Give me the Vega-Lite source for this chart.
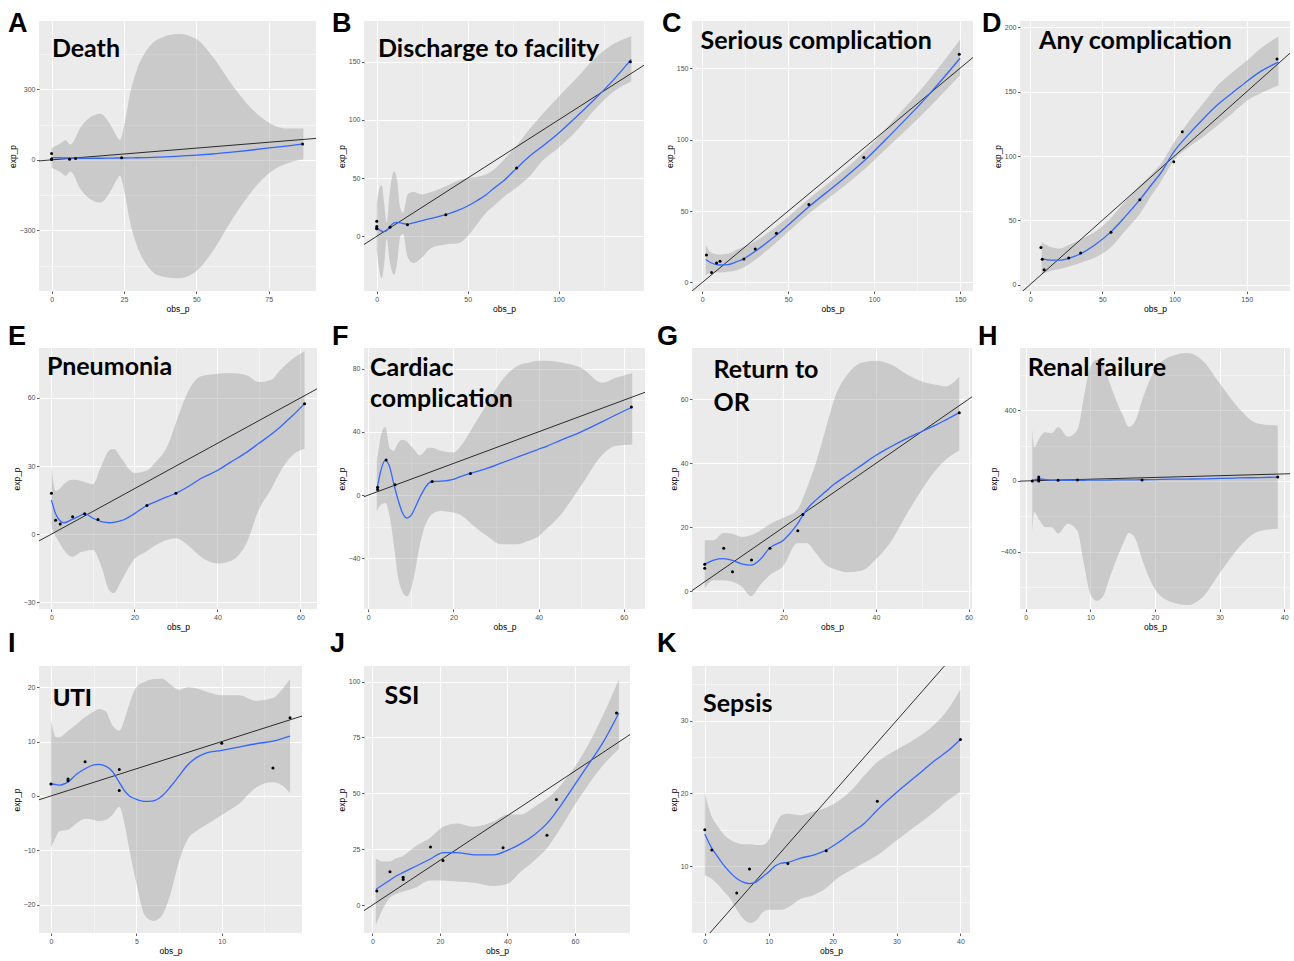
{
"$schema": "https://vega.github.io/schema/vega-lite/v6.json",
"background": "white",
"padding": {"left": 8, "top": 10, "right": 2, "bottom": 2},
"bounds": "flush",
"columns": 4,
"spacing": {"row": 57, "column": 47},
"config": {
  "view": {"fill": "#EBEBEB", "stroke": null},
  "axis": {"domain": false, "grid": true, "gridColor": "#FFFFFF", "tickColor": "#333333", "tickSize": 2.5, "tickWidth": 0.8, "labelColor": "#4D4D4D", "labelFont": "Liberation Sans", "labelFontSize": 7, "labelPadding": 1.5, "titleFont": "Liberation Sans", "titleFontSize": 8.5, "titleFontWeight": "normal", "titleColor": "#000000", "titlePadding": 2, "labelOverlap": false, "labelFlush": false}
},
"datasets": {
  "ident": [{"x": -2000, "y": -2000}, {"x": 2000, "y": 2000}],
  "A_band": [
    {"x":0,"fit":10,"lo":-33,"hi":51},{"x":3,"fit":9,"lo":-52,"hi":70},{"x":4.8,"fit":8,"lo":-68,"hi":84},{"x":6.5,"fit":8,"lo":-49,"hi":65},{"x":10,"fit":7,"lo":-124,"hi":138},{"x":13.3,"fit":7,"lo":-167,"hi":181},{"x":16.8,"fit":7,"lo":-182,"hi":196},{"x":20.2,"fit":7.5,"lo":-137,"hi":152},{"x":22.5,"fit":8,"lo":-85,"hi":101},{"x":23.6,"fit":8,"lo":-68,"hi":84},{"x":25.3,"fit":8,"lo":-144,"hi":160},{"x":27,"fit":8.5,"lo":-258,"hi":275},{"x":29.3,"fit":9,"lo":-359,"hi":377},{"x":32.7,"fit":10,"lo":-444,"hi":464},{"x":37.3,"fit":12,"lo":-493,"hi":517},{"x":44,"fit":16,"lo":-504,"hi":536},{"x":50,"fit":20,"lo":-474,"hi":514},{"x":55.5,"fit":25,"lo":-392,"hi":442},{"x":62.4,"fit":33,"lo":-253,"hi":319},{"x":69.2,"fit":42,"lo":-133,"hi":217},{"x":76,"fit":52,"lo":-48,"hi":152},{"x":81.8,"fit":60,"lo":-13,"hi":133},{"x":87,"fit":68,"lo":3,"hi":133}
  ],
  "A_pts": [{"x":0,"y":27},{"x":0,"y":4},{"x":0,"y":2},{"x":6.2,"y":3},{"x":8.3,"y":6},{"x":24.2,"y":9},{"x":86.7,"y":68}],
  "B_band": [
    {"x":0,"fit":8,"lo":-12,"hi":28},{"x":1,"fit":6,"lo":-25,"hi":38},{"x":2.7,"fit":4.5,"lo":-36,"hi":44},{"x":4,"fit":4,"lo":-25,"hi":30},{"x":5.5,"fit":5,"lo":-2,"hi":12},{"x":7,"fit":8,"lo":-20,"hi":35},{"x":9.5,"fit":11.5,"lo":-33,"hi":56},{"x":11,"fit":12,"lo":-25,"hi":50},{"x":13,"fit":11.5,"lo":0,"hi":24},{"x":14.5,"fit":11,"lo":2,"hi":20},{"x":17,"fit":10.5,"lo":-18,"hi":36},{"x":20,"fit":11.5,"lo":-23,"hi":38},{"x":25,"fit":13.5,"lo":-18,"hi":36},{"x":30,"fit":15.5,"lo":-10,"hi":38},{"x":38,"fit":18.6,"lo":-7,"hi":43},{"x":45,"fit":22.5,"lo":-6,"hi":48},{"x":50,"fit":26,"lo":0,"hi":50},{"x":55,"fit":30.5,"lo":10,"hi":51},{"x":60,"fit":35.5,"lo":20,"hi":53},{"x":65,"fit":42,"lo":27,"hi":58},{"x":70,"fit":48,"lo":34,"hi":66},{"x":77,"fit":58.6,"lo":42,"hi":78},{"x":85,"fit":70,"lo":53,"hi":94},{"x":90,"fit":76,"lo":63,"hi":103},{"x":100,"fit":88.6,"lo":76,"hi":120},{"x":110,"fit":103,"lo":91,"hi":136},{"x":120,"fit":118,"lo":109,"hi":153},{"x":130,"fit":134,"lo":124,"hi":165},{"x":140,"fit":152,"lo":133,"hi":172}
  ],
  "B_pts": [{"x":0,"y":13},{"x":0,"y":8.5},{"x":0,"y":7},{"x":0,"y":6.5},{"x":7.3,"y":7.7},{"x":16.9,"y":10},{"x":38,"y":18.6},{"x":76.9,"y":58.6},{"x":139.5,"y":150}],
  "C_band": [
    {"x":2,"fit":16,"lo":5,"hi":26},{"x":5,"fit":13.8,"lo":7,"hi":21},{"x":10,"fit":12.2,"lo":7,"hi":19.5},{"x":15,"fit":12.5,"lo":7.5,"hi":20},{"x":20,"fit":14.5,"lo":8.5,"hi":23},{"x":24,"fit":16.5,"lo":10.5,"hi":25},{"x":31,"fit":22,"lo":16,"hi":29},{"x":43,"fit":33,"lo":28,"hi":39},{"x":62,"fit":53,"lo":48,"hi":58.5},{"x":80,"fit":70.5,"lo":65,"hi":76},{"x":95,"fit":86,"lo":80,"hi":92.5},{"x":110,"fit":104,"lo":97,"hi":112},{"x":130,"fit":129,"lo":120,"hi":139},{"x":150,"fit":157,"lo":145,"hi":170}
  ],
  "C_pts": [{"x":2.4,"y":19.2},{"x":5.4,"y":7},{"x":8.3,"y":13.6},{"x":10.3,"y":14.8},{"x":24.2,"y":16.4},{"x":30.8,"y":23.4},{"x":43.1,"y":34.4},{"x":62,"y":54.6},{"x":94,"y":87.4},{"x":149.5,"y":159.8}],
  "D_band": [
    {"x":8,"fit":20,"lo":8,"hi":33},{"x":15,"fit":19,"lo":11,"hi":29},{"x":20,"fit":19,"lo":12,"hi":28},{"x":27,"fit":20.5,"lo":14,"hi":31},{"x":35,"fit":24,"lo":17,"hi":35},{"x":45,"fit":31,"lo":21,"hi":41},{"x":56,"fit":41,"lo":29,"hi":52},{"x":66,"fit":53,"lo":42,"hi":65},{"x":76,"fit":66,"lo":55,"hi":77},{"x":85,"fit":79,"lo":71,"hi":87},{"x":90,"fit":86,"lo":79,"hi":93},{"x":100,"fit":104,"lo":97,"hi":111},{"x":110,"fit":117,"lo":107,"hi":127},{"x":120,"fit":129,"lo":115,"hi":141},{"x":130,"fit":140,"lo":124,"hi":155},{"x":140,"fit":149,"lo":133,"hi":165},{"x":150,"fit":158,"lo":143,"hi":174},{"x":160,"fit":166,"lo":149,"hi":184},{"x":172,"fit":173,"lo":155,"hi":193}
  ],
  "D_pts": [{"x":7.5,"y":28.8},{"x":8.4,"y":19.6},{"x":9.7,"y":11.5},{"x":26.7,"y":20.7},{"x":35,"y":24.6},{"x":56,"y":40.6},{"x":76,"y":66},{"x":99.5,"y":95.5},{"x":105.4,"y":118.8},{"x":171,"y":175.4}],
  "E_band": [
    {"x":0,"fit":15,"lo":3,"hi":30},{"x":1,"fit":9,"lo":-1,"hi":19},{"x":2,"fit":6,"lo":-4,"hi":20},{"x":3,"fit":5,"lo":-7,"hi":22},{"x":5,"fit":6.5,"lo":-10,"hi":24},{"x":7,"fit":8.2,"lo":-8,"hi":23.5},{"x":8,"fit":9,"lo":-7.5,"hi":23},{"x":10,"fit":7,"lo":-7,"hi":22},{"x":12,"fit":5.5,"lo":-14,"hi":30},{"x":14,"fit":5,"lo":-25,"hi":37},{"x":15,"fit":5.2,"lo":-26,"hi":37.5},{"x":17,"fit":6,"lo":-20,"hi":33},{"x":20,"fit":9,"lo":-11,"hi":27},{"x":23,"fit":12.6,"lo":-7.5,"hi":28},{"x":25,"fit":14.2,"lo":-5,"hi":31.5},{"x":28,"fit":16.5,"lo":-2.5,"hi":39},{"x":30,"fit":18,"lo":-1.8,"hi":49},{"x":33,"fit":21,"lo":-5,"hi":63},{"x":36,"fit":24.5,"lo":-10,"hi":69.5},{"x":40,"fit":28,"lo":-13,"hi":70.7},{"x":43,"fit":31.5,"lo":-12,"hi":71},{"x":47,"fit":36,"lo":-4,"hi":70},{"x":50,"fit":40,"lo":10.8,"hi":67},{"x":53,"fit":44,"lo":20,"hi":68},{"x":55,"fit":47,"lo":27,"hi":72},{"x":58,"fit":52,"lo":34.6,"hi":77},{"x":61,"fit":57.5,"lo":37.6,"hi":80.7}
  ],
  "E_pts": [{"x":0,"y":18},{"x":1,"y":6.1},{"x":2.1,"y":4.5},{"x":5.1,"y":7.6},{"x":8,"y":9},{"x":11.2,"y":6.4},{"x":23,"y":12.6},{"x":30,"y":18},{"x":61,"y":57.4}],
  "F_band": [
    {"x":2,"fit":3,"lo":-10,"hi":21},{"x":2.5,"fit":10,"lo":-8,"hi":30},{"x":3,"fit":16,"lo":-6,"hi":38},{"x":4,"fit":22,"lo":-5,"hi":43},{"x":5,"fit":18,"lo":-13,"hi":30},{"x":6,"fit":7,"lo":-31,"hi":28},{"x":7,"fit":-3,"lo":-52,"hi":33},{"x":8,"fit":-11,"lo":-61,"hi":35},{"x":9,"fit":-14.5,"lo":-64,"hi":34},{"x":10,"fit":-13,"lo":-60,"hi":31},{"x":11,"fit":-8,"lo":-48,"hi":28},{"x":12,"fit":-2,"lo":-33,"hi":25},{"x":13,"fit":3,"lo":-22,"hi":27},{"x":14,"fit":7,"lo":-15.5,"hi":30},{"x":15,"fit":8.6,"lo":-12,"hi":30},{"x":17,"fit":8.8,"lo":-10,"hi":28},{"x":20,"fit":10,"lo":-11,"hi":27},{"x":22,"fit":12,"lo":-13,"hi":32},{"x":25,"fit":14.5,"lo":-20,"hi":45},{"x":28,"fit":17,"lo":-26,"hi":58},{"x":31,"fit":20,"lo":-31,"hi":71},{"x":35,"fit":24,"lo":-31,"hi":81.6},{"x":38,"fit":27,"lo":-28.5,"hi":84},{"x":40,"fit":29,"lo":-26,"hi":85},{"x":42,"fit":31,"lo":-21,"hi":85},{"x":45,"fit":34.5,"lo":-13,"hi":84},{"x":50,"fit":40,"lo":6,"hi":80.5},{"x":55,"fit":46.5,"lo":25.5,"hi":71},{"x":58,"fit":50.5,"lo":31,"hi":74},{"x":62,"fit":55.7,"lo":32,"hi":77}
  ],
  "F_pts": [{"x":2.2,"y":5},{"x":2.2,"y":3.5},{"x":4.2,"y":22.2},{"x":6.3,"y":6.5},{"x":15,"y":8.6},{"x":24,"y":13.6},{"x":61.8,"y":55.7}],
  "G_band": [
    {"x":3,"fit":8.5,"lo":1,"hi":16},{"x":5,"fit":9.8,"lo":3.5,"hi":16},{"x":7,"fit":10.2,"lo":3.5,"hi":18.2},{"x":9,"fit":9.7,"lo":3,"hi":18},{"x":11,"fit":8.6,"lo":1.5,"hi":17},{"x":13,"fit":8.2,"lo":-1.5,"hi":17.5},{"x":15,"fit":10,"lo":2,"hi":19},{"x":17,"fit":13.5,"lo":5,"hi":21},{"x":20,"fit":16,"lo":8,"hi":23},{"x":23,"fit":21,"lo":15,"hi":25.5},{"x":25,"fit":25.5,"lo":15,"hi":32},{"x":27,"fit":28.5,"lo":12,"hi":40},{"x":29,"fit":31,"lo":8.5,"hi":50},{"x":31,"fit":33.5,"lo":7,"hi":60},{"x":34,"fit":36.5,"lo":6,"hi":68},{"x":37,"fit":39.5,"lo":6.5,"hi":71.5},{"x":40,"fit":42.5,"lo":10,"hi":72},{"x":43,"fit":45,"lo":15,"hi":71},{"x":47,"fit":48,"lo":25,"hi":67.5},{"x":50,"fit":50,"lo":32,"hi":65.5},{"x":53,"fit":52,"lo":38,"hi":64.5},{"x":55,"fit":53.5,"lo":41,"hi":64},{"x":58,"fit":55.8,"lo":44,"hi":67}
  ],
  "G_pts": [{"x":3,"y":8.5},{"x":3,"y":7.2},{"x":7.1,"y":13.5},{"x":9,"y":6.1},{"x":13.1,"y":9.8},{"x":17.1,"y":13.5},{"x":23.1,"y":18.9},{"x":24.2,"y":24},{"x":58,"y":55.8}],
  "H_band": [
    {"x":1,"fit":5,"lo":-290,"hi":295},{"x":1.3,"fit":6,"lo":-175,"hi":190},{"x":2,"fit":12,"lo":-215,"hi":235},{"x":3,"fit":8,"lo":-260,"hi":275},{"x":4,"fit":5,"lo":-262,"hi":270},{"x":5,"fit":4,"lo":-297,"hi":305},{"x":6.5,"fit":4,"lo":-242,"hi":250},{"x":8,"fit":4,"lo":-282,"hi":290},{"x":9,"fit":4,"lo":-468,"hi":476},{"x":10,"fit":4.5,"lo":-640,"hi":648},{"x":11,"fit":5,"lo":-678,"hi":686},{"x":12,"fit":5,"lo":-649,"hi":657},{"x":13,"fit":5.5,"lo":-544,"hi":552},{"x":15,"fit":6,"lo":-360,"hi":371},{"x":16,"fit":6.5,"lo":-293,"hi":305},{"x":17,"fit":6.5,"lo":-330,"hi":343},{"x":18,"fit":7,"lo":-443,"hi":457},{"x":20,"fit":8,"lo":-613,"hi":629},{"x":22.5,"fit":10,"lo":-685,"hi":705},{"x":25,"fit":11,"lo":-702,"hi":724},{"x":27.5,"fit":12,"lo":-652,"hi":676},{"x":30,"fit":15,"lo":-522,"hi":552},{"x":33,"fit":17,"lo":-376,"hi":410},{"x":36,"fit":19,"lo":-286,"hi":324},{"x":39,"fit":22,"lo":-270,"hi":314}
  ],
  "H_pts": [{"x":1,"y":0},{"x":2,"y":23},{"x":2,"y":10},{"x":2,"y":0},{"x":5,"y":4},{"x":8,"y":6},{"x":18,"y":6},{"x":39,"y":23}],
  "I_band": [
    {"x":0,"fit":2.2,"lo":-9.5,"hi":14},{"x":0.3,"fit":2.1,"lo":-7.5,"hi":10.8},{"x":0.5,"fit":2,"lo":-6.5,"hi":10.8},{"x":1,"fit":2.6,"lo":-6.2,"hi":12},{"x":1.5,"fit":4,"lo":-5,"hi":13.2},{"x":2,"fit":5,"lo":-4.2,"hi":14.5},{"x":2.5,"fit":5.7,"lo":-4.4,"hi":15.5},{"x":2.8,"fit":5.8,"lo":-4.6,"hi":16},{"x":3.2,"fit":5.5,"lo":-4.4,"hi":15.6},{"x":3.6,"fit":4.5,"lo":-3.5,"hi":13},{"x":4,"fit":2.5,"lo":-2,"hi":12},{"x":4.3,"fit":1,"lo":-5,"hi":14},{"x":4.6,"fit":0,"lo":-10,"hi":17},{"x":5,"fit":-0.6,"lo":-16,"hi":20},{"x":5.5,"fit":-1,"lo":-22,"hi":21},{"x":6,"fit":-0.9,"lo":-23,"hi":21.5},{"x":6.5,"fit":0,"lo":-22,"hi":21.6},{"x":7,"fit":1.7,"lo":-18,"hi":20.5},{"x":7.5,"fit":3.7,"lo":-12,"hi":19.5},{"x":8,"fit":5.7,"lo":-8,"hi":20},{"x":8.5,"fit":7,"lo":-6.5,"hi":19.8},{"x":9,"fit":7.8,"lo":-5.5,"hi":19.3},{"x":10,"fit":8.4,"lo":-3.5,"hi":18.5},{"x":11,"fit":9,"lo":-1.5,"hi":18.5},{"x":12,"fit":9.6,"lo":1.5,"hi":17.5},{"x":13,"fit":10.1,"lo":2.5,"hi":18},{"x":13.5,"fit":10.5,"lo":2,"hi":19.5},{"x":14,"fit":11,"lo":0.5,"hi":21.5}
  ],
  "I_pts": [{"x":0,"y":2.2},{"x":1,"y":2.8},{"x":1,"y":3.1},{"x":2,"y":6.3},{"x":4,"y":4.85},{"x":4,"y":1},{"x":10,"y":9.7},{"x":13,"y":5.15},{"x":14,"y":14.4}],
  "J_band": [
    {"x":1,"fit":7,"lo":-9,"hi":21},{"x":3,"fit":9,"lo":-2,"hi":19.5},{"x":5,"fit":11,"lo":3,"hi":19.5},{"x":7,"fit":13,"lo":5,"hi":21},{"x":9,"fit":14.5,"lo":6,"hi":22},{"x":13,"fit":17.5,"lo":8,"hi":26.5},{"x":17,"fit":20.5,"lo":11,"hi":30},{"x":21,"fit":23.5,"lo":11,"hi":35},{"x":25,"fit":23.5,"lo":10.5,"hi":36.5},{"x":30,"fit":22.5,"lo":10,"hi":35},{"x":36,"fit":22.5,"lo":8.5,"hi":37.5},{"x":40,"fit":24.5,"lo":9.5,"hi":40.5},{"x":44,"fit":27.5,"lo":15,"hi":40.5},{"x":48,"fit":31.5,"lo":20,"hi":44},{"x":52,"fit":37,"lo":26,"hi":48},{"x":56,"fit":45,"lo":35,"hi":54},{"x":60,"fit":54,"lo":45,"hi":62},{"x":64,"fit":63,"lo":54,"hi":72},{"x":68,"fit":72,"lo":62,"hi":84},{"x":73,"fit":86,"lo":70,"hi":101}
  ],
  "J_pts": [{"x":1.3,"y":6.3},{"x":5.2,"y":14.9},{"x":9.1,"y":11.5},{"x":9.1,"y":12.5},{"x":17.2,"y":26},{"x":20.9,"y":20},{"x":38.7,"y":25.7},{"x":51.7,"y":31.2},{"x":54.5,"y":47.3},{"x":72.3,"y":86}],
  "K_band": [
    {"x":0,"fit":14.4,"lo":8.7,"hi":20},{"x":1,"fit":12.6,"lo":8.3,"hi":17},{"x":2,"fit":11.3,"lo":7.5,"hi":15.5},{"x":3,"fit":10.1,"lo":6.5,"hi":14.3},{"x":4,"fit":9.1,"lo":5.5,"hi":13.6},{"x":5,"fit":8.3,"lo":4,"hi":13.2},{"x":6,"fit":7.8,"lo":2.8,"hi":13},{"x":7,"fit":7.6,"lo":2.2,"hi":13},{"x":8,"fit":7.8,"lo":2.5,"hi":12.9},{"x":9,"fit":8.5,"lo":3.6,"hi":12.9},{"x":10,"fit":9.2,"lo":4,"hi":13.6},{"x":11,"fit":10,"lo":4,"hi":15.5},{"x":12,"fit":10.4,"lo":4,"hi":17},{"x":13,"fit":10.5,"lo":4.3,"hi":17.2},{"x":15,"fit":11.1,"lo":5.5,"hi":17},{"x":17,"fit":11.5,"lo":6,"hi":17.5},{"x":19,"fit":12.2,"lo":7,"hi":18},{"x":21,"fit":13.3,"lo":8.5,"hi":19},{"x":23,"fit":14.6,"lo":9.5,"hi":20.5},{"x":25,"fit":15.9,"lo":10.5,"hi":22.5},{"x":27,"fit":17.7,"lo":11.5,"hi":24.3},{"x":30,"fit":20.1,"lo":13.5,"hi":26},{"x":33,"fit":22.3,"lo":15.5,"hi":27.5},{"x":36,"fit":24.5,"lo":17.5,"hi":29.5},{"x":38,"fit":25.8,"lo":19,"hi":31.5},{"x":40,"fit":27.4,"lo":20.2,"hi":34.3}
  ],
  "K_pts": [{"x":0,"y":15},{"x":1.1,"y":12.2},{"x":5,"y":6.3},{"x":7,"y":9.6},{"x":13,"y":10.35},{"x":19,"y":12.1},{"x":27,"y":18.9},{"x":40,"y":27.4}]
},
"concat": [
  {"width": 277, "height": 270,
   "title": {"text": "A", "anchor": "start", "frame": "group", "offset": 0, "baseline": "alphabetic", "dx": -31, "dy": 38, "font": "Liberation Sans", "fontSize": 27, "fontWeight": "bold", "color": "#000000"},
   "layer": [
    {"data": {"name": "A_band"}, "mark": {"type": "area", "color": "#999999", "opacity": 0.4, "interpolate": "monotone"}, "encoding": {
      "x": {"field": "x", "type": "quantitative", "title": "obs_p", "scale": {"domain": [-4.35, 91.35], "nice": false, "zero": false}, "axis": {"labelOverlap": false, "values": [0,12.5,25,37.5,50,62.5,75,87.5], "labelExpr": "datum.value % 25 ? '' : datum.label", "tickOpacity": {"condition": {"test": "datum.value % 25", "value": 0}, "value": 1}, "gridWidth": {"condition": {"test": "datum.value % 25", "value": 0.5}, "value": 1}}},
      "y": {"field": "lo", "type": "quantitative", "title": "exp_p", "scale": {"domain": [-558, 591], "nice": false, "zero": false}, "axis": {"labelOverlap": false, "values": [-450,-300,-150,0,150,300,450], "labelExpr": "datum.value % 300 ? '' : datum.label", "tickOpacity": {"condition": {"test": "datum.value % 300", "value": 0}, "value": 1}, "gridWidth": {"condition": {"test": "datum.value % 300", "value": 0.5}, "value": 1}}}, "y2": {"field": "hi"}}},
    {"data": {"name": "ident"}, "mark": {"type": "line", "color": "#000000", "strokeWidth": 0.8, "clip": true}, "encoding": {"x": {"field": "x", "type": "quantitative", "title": "obs_p"}, "y": {"field": "y", "type": "quantitative", "title": "exp_p"}}},
    {"data": {"name": "A_band"}, "mark": {"type": "line", "color": "#3366FF", "strokeWidth": 1.3, "interpolate": "monotone"}, "encoding": {"x": {"field": "x", "type": "quantitative", "title": "obs_p"}, "y": {"field": "fit", "type": "quantitative", "title": "exp_p"}}},
    {"data": {"name": "A_pts"}, "mark": {"type": "circle", "color": "#000000", "size": 9, "opacity": 1}, "encoding": {"x": {"field": "x", "type": "quantitative", "title": "obs_p"}, "y": {"field": "y", "type": "quantitative", "title": "exp_p"}}},
    {"data": {"values": [{"label": "Death"}]}, "mark": {"type": "text", "font": "Lato", "fontWeight": "bold", "fontSize": 25, "align": "left", "baseline": "alphabetic", "color": "#000000"}, "encoding": {"x": {"datum": 0.1, "type": "quantitative"}, "y": {"datum": 437, "type": "quantitative"}, "text": {"field": "label"}}}
   ]},
  {"width": 280, "height": 270,
   "title": {"text": "B", "anchor": "start", "frame": "group", "offset": 0, "baseline": "alphabetic", "dx": -32, "dy": 38, "font": "Liberation Sans", "fontSize": 27, "fontWeight": "bold", "color": "#000000"},
   "layer": [
    {"data": {"name": "B_band"}, "mark": {"type": "area", "color": "#999999", "opacity": 0.4, "interpolate": "monotone"}, "encoding": {
      "x": {"field": "x", "type": "quantitative", "title": "obs_p", "scale": {"domain": [-7, 147], "nice": false, "zero": false}, "axis": {"labelOverlap": false, "values": [0,25,50,75,100,125], "labelExpr": "datum.value % 50 ? '' : datum.label", "tickOpacity": {"condition": {"test": "datum.value % 50", "value": 0}, "value": 1}, "gridWidth": {"condition": {"test": "datum.value % 50", "value": 0.5}, "value": 1}}},
      "y": {"field": "lo", "type": "quantitative", "title": "exp_p", "scale": {"domain": [-47, 185], "nice": false, "zero": false}, "axis": {"labelOverlap": false, "values": [0,25,50,75,100,125,150,175], "labelExpr": "datum.value % 50 ? '' : datum.label", "tickOpacity": {"condition": {"test": "datum.value % 50", "value": 0}, "value": 1}, "gridWidth": {"condition": {"test": "datum.value % 50", "value": 0.5}, "value": 1}}}, "y2": {"field": "hi"}}},
    {"data": {"name": "ident"}, "mark": {"type": "line", "color": "#000000", "strokeWidth": 0.8, "clip": true}, "encoding": {"x": {"field": "x", "type": "quantitative", "title": "obs_p"}, "y": {"field": "y", "type": "quantitative", "title": "exp_p"}}},
    {"data": {"name": "B_band"}, "mark": {"type": "line", "color": "#3366FF", "strokeWidth": 1.3, "interpolate": "monotone"}, "encoding": {"x": {"field": "x", "type": "quantitative", "title": "obs_p"}, "y": {"field": "fit", "type": "quantitative", "title": "exp_p"}}},
    {"data": {"name": "B_pts"}, "mark": {"type": "circle", "color": "#000000", "size": 9, "opacity": 1}, "encoding": {"x": {"field": "x", "type": "quantitative", "title": "obs_p"}, "y": {"field": "y", "type": "quantitative", "title": "exp_p"}}},
    {"data": {"values": [{"label": "Discharge to facility"}]}, "mark": {"type": "text", "font": "Lato", "fontWeight": "bold", "fontSize": 25, "align": "left", "baseline": "alphabetic", "color": "#000000"}, "encoding": {"x": {"datum": 0.7, "type": "quantitative"}, "y": {"datum": 154, "type": "quantitative"}, "text": {"field": "label"}}}
   ]},
  {"width": 281, "height": 270,
   "title": {"text": "C", "anchor": "start", "frame": "group", "offset": 0, "baseline": "alphabetic", "dx": -30, "dy": 38, "font": "Liberation Sans", "fontSize": 27, "fontWeight": "bold", "color": "#000000"},
   "layer": [
    {"data": {"name": "C_band"}, "mark": {"type": "area", "color": "#999999", "opacity": 0.4, "interpolate": "monotone"}, "encoding": {
      "x": {"field": "x", "type": "quantitative", "title": "obs_p", "scale": {"domain": [-6, 157.5], "nice": false, "zero": false}, "axis": {"labelOverlap": false, "values": [0,25,50,75,100,125,150], "labelExpr": "datum.value % 50 ? '' : datum.label", "tickOpacity": {"condition": {"test": "datum.value % 50", "value": 0}, "value": 1}, "gridWidth": {"condition": {"test": "datum.value % 50", "value": 0.5}, "value": 1}}},
      "y": {"field": "lo", "type": "quantitative", "title": "exp_p", "scale": {"domain": [-6, 183], "nice": false, "zero": false}, "axis": {"labelOverlap": false, "values": [0,25,50,75,100,125,150,175], "labelExpr": "datum.value % 50 ? '' : datum.label", "tickOpacity": {"condition": {"test": "datum.value % 50", "value": 0}, "value": 1}, "gridWidth": {"condition": {"test": "datum.value % 50", "value": 0.5}, "value": 1}}}, "y2": {"field": "hi"}}},
    {"data": {"name": "ident"}, "mark": {"type": "line", "color": "#000000", "strokeWidth": 0.8, "clip": true}, "encoding": {"x": {"field": "x", "type": "quantitative", "title": "obs_p"}, "y": {"field": "y", "type": "quantitative", "title": "exp_p"}}},
    {"data": {"name": "C_band"}, "mark": {"type": "line", "color": "#3366FF", "strokeWidth": 1.3, "interpolate": "monotone"}, "encoding": {"x": {"field": "x", "type": "quantitative", "title": "obs_p"}, "y": {"field": "fit", "type": "quantitative", "title": "exp_p"}}},
    {"data": {"name": "C_pts"}, "mark": {"type": "circle", "color": "#000000", "size": 9, "opacity": 1}, "encoding": {"x": {"field": "x", "type": "quantitative", "title": "obs_p"}, "y": {"field": "y", "type": "quantitative", "title": "exp_p"}}},
    {"data": {"values": [{"label": "Serious complication"}]}, "mark": {"type": "text", "font": "Lato", "fontWeight": "bold", "fontSize": 25, "align": "left", "baseline": "alphabetic", "color": "#000000"}, "encoding": {"x": {"datum": -1, "type": "quantitative"}, "y": {"datum": 163.4, "type": "quantitative"}, "text": {"field": "label"}}}
   ]},
  {"width": 270, "height": 270,
   "title": {"text": "D", "anchor": "start", "frame": "group", "offset": 0, "baseline": "alphabetic", "dx": -38, "dy": 38, "font": "Liberation Sans", "fontSize": 27, "fontWeight": "bold", "color": "#000000"},
   "layer": [
    {"data": {"name": "D_band"}, "mark": {"type": "area", "color": "#999999", "opacity": 0.4, "interpolate": "monotone"}, "encoding": {
      "x": {"field": "x", "type": "quantitative", "title": "obs_p", "scale": {"domain": [-7, 180], "nice": false, "zero": false}, "axis": {"labelOverlap": false, "values": [0,25,50,75,100,125,150,175], "labelExpr": "datum.value % 50 ? '' : datum.label", "tickOpacity": {"condition": {"test": "datum.value % 50", "value": 0}, "value": 1}, "gridWidth": {"condition": {"test": "datum.value % 50", "value": 0.5}, "value": 1}}},
      "y": {"field": "lo", "type": "quantitative", "title": "exp_p", "scale": {"domain": [-5, 205], "nice": false, "zero": false}, "axis": {"labelOverlap": false, "values": [0,25,50,75,100,125,150,175,200], "labelExpr": "datum.value % 50 ? '' : datum.label", "tickOpacity": {"condition": {"test": "datum.value % 50", "value": 0}, "value": 1}, "gridWidth": {"condition": {"test": "datum.value % 50", "value": 0.5}, "value": 1}}}, "y2": {"field": "hi"}}},
    {"data": {"name": "ident"}, "mark": {"type": "line", "color": "#000000", "strokeWidth": 0.8, "clip": true}, "encoding": {"x": {"field": "x", "type": "quantitative", "title": "obs_p"}, "y": {"field": "y", "type": "quantitative", "title": "exp_p"}}},
    {"data": {"name": "D_band"}, "mark": {"type": "line", "color": "#3366FF", "strokeWidth": 1.3, "interpolate": "monotone"}, "encoding": {"x": {"field": "x", "type": "quantitative", "title": "obs_p"}, "y": {"field": "fit", "type": "quantitative", "title": "exp_p"}}},
    {"data": {"name": "D_pts"}, "mark": {"type": "circle", "color": "#000000", "size": 9, "opacity": 1}, "encoding": {"x": {"field": "x", "type": "quantitative", "title": "obs_p"}, "y": {"field": "y", "type": "quantitative", "title": "exp_p"}}},
    {"data": {"values": [{"label": "Any complication"}]}, "mark": {"type": "text", "font": "Lato", "fontWeight": "bold", "fontSize": 25, "align": "left", "baseline": "alphabetic", "color": "#000000"}, "encoding": {"x": {"datum": 6.2, "type": "quantitative"}, "y": {"datum": 183.6, "type": "quantitative"}, "text": {"field": "label"}}}
   ]},
  {"width": 278, "height": 261,
   "title": {"text": "E", "anchor": "start", "frame": "group", "offset": 0, "baseline": "alphabetic", "dx": -31, "dy": 24, "font": "Liberation Sans", "fontSize": 27, "fontWeight": "bold", "color": "#000000"},
   "layer": [
    {"data": {"name": "E_band"}, "mark": {"type": "area", "color": "#999999", "opacity": 0.4, "interpolate": "monotone"}, "encoding": {
      "x": {"field": "x", "type": "quantitative", "title": "obs_p", "scale": {"domain": [-3, 64], "nice": false, "zero": false}, "axis": {"labelOverlap": false, "values": [0,10,20,30,40,50,60], "labelExpr": "datum.value % 20 ? '' : datum.label", "tickOpacity": {"condition": {"test": "datum.value % 20", "value": 0}, "value": 1}, "gridWidth": {"condition": {"test": "datum.value % 20", "value": 0.5}, "value": 1}}},
      "y": {"field": "lo", "type": "quantitative", "title": "exp_p", "scale": {"domain": [-33, 82], "nice": false, "zero": false}, "axis": {"labelOverlap": false, "values": [-30,-15,0,15,30,45,60,75], "labelExpr": "datum.value % 30 ? '' : datum.label", "tickOpacity": {"condition": {"test": "datum.value % 30", "value": 0}, "value": 1}, "gridWidth": {"condition": {"test": "datum.value % 30", "value": 0.5}, "value": 1}}}, "y2": {"field": "hi"}}},
    {"data": {"name": "ident"}, "mark": {"type": "line", "color": "#000000", "strokeWidth": 0.8, "clip": true}, "encoding": {"x": {"field": "x", "type": "quantitative", "title": "obs_p"}, "y": {"field": "y", "type": "quantitative", "title": "exp_p"}}},
    {"data": {"name": "E_band"}, "mark": {"type": "line", "color": "#3366FF", "strokeWidth": 1.3, "interpolate": "monotone"}, "encoding": {"x": {"field": "x", "type": "quantitative", "title": "obs_p"}, "y": {"field": "fit", "type": "quantitative", "title": "exp_p"}}},
    {"data": {"name": "E_pts"}, "mark": {"type": "circle", "color": "#000000", "size": 9, "opacity": 1}, "encoding": {"x": {"field": "x", "type": "quantitative", "title": "obs_p"}, "y": {"field": "y", "type": "quantitative", "title": "exp_p"}}},
    {"data": {"values": [{"label": "Pneumonia"}]}, "mark": {"type": "text", "font": "Lato", "fontWeight": "bold", "fontSize": 25, "align": "left", "baseline": "alphabetic", "color": "#000000"}, "encoding": {"x": {"datum": -1.1, "type": "quantitative"}, "y": {"datum": 70, "type": "quantitative"}, "text": {"field": "label"}}}
   ]},
  {"width": 281, "height": 261,
   "title": {"text": "F", "anchor": "start", "frame": "group", "offset": 0, "baseline": "alphabetic", "dx": -32, "dy": 24, "font": "Liberation Sans", "fontSize": 27, "fontWeight": "bold", "color": "#000000"},
   "layer": [
    {"data": {"name": "F_band"}, "mark": {"type": "area", "color": "#999999", "opacity": 0.4, "interpolate": "monotone"}, "encoding": {
      "x": {"field": "x", "type": "quantitative", "title": "obs_p", "scale": {"domain": [-1, 65], "nice": false, "zero": false}, "axis": {"labelOverlap": false, "values": [0,10,20,30,40,50,60], "labelExpr": "datum.value % 20 ? '' : datum.label", "tickOpacity": {"condition": {"test": "datum.value % 20", "value": 0}, "value": 1}, "gridWidth": {"condition": {"test": "datum.value % 20", "value": 0.5}, "value": 1}}},
      "y": {"field": "lo", "type": "quantitative", "title": "exp_p", "scale": {"domain": [-72, 93], "nice": false, "zero": false}, "axis": {"labelOverlap": false, "values": [-40,-20,0,20,40,60,80], "labelExpr": "datum.value % 40 ? '' : datum.label", "tickOpacity": {"condition": {"test": "datum.value % 40", "value": 0}, "value": 1}, "gridWidth": {"condition": {"test": "datum.value % 40", "value": 0.5}, "value": 1}}}, "y2": {"field": "hi"}}},
    {"data": {"name": "ident"}, "mark": {"type": "line", "color": "#000000", "strokeWidth": 0.8, "clip": true}, "encoding": {"x": {"field": "x", "type": "quantitative", "title": "obs_p"}, "y": {"field": "y", "type": "quantitative", "title": "exp_p"}}},
    {"data": {"name": "F_band"}, "mark": {"type": "line", "color": "#3366FF", "strokeWidth": 1.3, "interpolate": "monotone"}, "encoding": {"x": {"field": "x", "type": "quantitative", "title": "obs_p"}, "y": {"field": "fit", "type": "quantitative", "title": "exp_p"}}},
    {"data": {"name": "F_pts"}, "mark": {"type": "circle", "color": "#000000", "size": 9, "opacity": 1}, "encoding": {"x": {"field": "x", "type": "quantitative", "title": "obs_p"}, "y": {"field": "y", "type": "quantitative", "title": "exp_p"}}},
    {"data": {"values": [{"label": "Cardiac\ncomplication"}]}, "mark": {"type": "text", "font": "Lato", "fontWeight": "bold", "fontSize": 25, "align": "left", "baseline": "alphabetic", "lineBreak": "\n", "lineHeight": 31, "color": "#000000"}, "encoding": {"x": {"datum": 0.4, "type": "quantitative"}, "y": {"datum": 75.4, "type": "quantitative"}, "text": {"field": "label"}}}
   ]},
  {"width": 280, "height": 261,
   "title": {"text": "G", "anchor": "start", "frame": "group", "offset": 0, "baseline": "alphabetic", "dx": -35, "dy": 24, "font": "Liberation Sans", "fontSize": 27, "fontWeight": "bold", "color": "#000000"},
   "layer": [
    {"data": {"name": "G_band"}, "mark": {"type": "area", "color": "#999999", "opacity": 0.4, "interpolate": "monotone"}, "encoding": {
      "x": {"field": "x", "type": "quantitative", "title": "obs_p", "scale": {"domain": [0.25, 60.75], "nice": false, "zero": false}, "axis": {"labelOverlap": false, "values": [10,20,30,40,50,60], "labelExpr": "datum.value % 20 ? '' : datum.label", "tickOpacity": {"condition": {"test": "datum.value % 20", "value": 0}, "value": 1}, "gridWidth": {"condition": {"test": "datum.value % 20", "value": 0.5}, "value": 1}}},
      "y": {"field": "lo", "type": "quantitative", "title": "exp_p", "scale": {"domain": [-5.5, 76], "nice": false, "zero": false}, "axis": {"labelOverlap": false, "values": [0,10,20,30,40,50,60,70], "labelExpr": "datum.value % 20 ? '' : datum.label", "tickOpacity": {"condition": {"test": "datum.value % 20", "value": 0}, "value": 1}, "gridWidth": {"condition": {"test": "datum.value % 20", "value": 0.5}, "value": 1}}}, "y2": {"field": "hi"}}},
    {"data": {"name": "ident"}, "mark": {"type": "line", "color": "#000000", "strokeWidth": 0.8, "clip": true}, "encoding": {"x": {"field": "x", "type": "quantitative", "title": "obs_p"}, "y": {"field": "y", "type": "quantitative", "title": "exp_p"}}},
    {"data": {"name": "G_band"}, "mark": {"type": "line", "color": "#3366FF", "strokeWidth": 1.3, "interpolate": "monotone"}, "encoding": {"x": {"field": "x", "type": "quantitative", "title": "obs_p"}, "y": {"field": "fit", "type": "quantitative", "title": "exp_p"}}},
    {"data": {"name": "G_pts"}, "mark": {"type": "circle", "color": "#000000", "size": 9, "opacity": 1}, "encoding": {"x": {"field": "x", "type": "quantitative", "title": "obs_p"}, "y": {"field": "y", "type": "quantitative", "title": "exp_p"}}},
    {"data": {"values": [{"label": "Return to\nOR"}]}, "mark": {"type": "text", "font": "Lato", "fontWeight": "bold", "fontSize": 25, "align": "left", "baseline": "alphabetic", "lineBreak": "\n", "lineHeight": 33, "color": "#000000"}, "encoding": {"x": {"datum": 4.9, "type": "quantitative"}, "y": {"datum": 66.5, "type": "quantitative"}, "text": {"field": "label"}}}
   ]},
  {"width": 270, "height": 261,
   "title": {"text": "H", "anchor": "start", "frame": "group", "offset": 0, "baseline": "alphabetic", "dx": -42, "dy": 24, "font": "Liberation Sans", "fontSize": 27, "fontWeight": "bold", "color": "#000000"},
   "layer": [
    {"data": {"name": "H_band"}, "mark": {"type": "area", "color": "#999999", "opacity": 0.4, "interpolate": "monotone"}, "encoding": {
      "x": {"field": "x", "type": "quantitative", "title": "obs_p", "scale": {"domain": [-0.9, 40.9], "nice": false, "zero": false}, "axis": {"labelOverlap": false, "values": [0,5,10,15,20,25,30,35,40], "labelExpr": "datum.value % 10 ? '' : datum.label", "tickOpacity": {"condition": {"test": "datum.value % 10", "value": 0}, "value": 1}, "gridWidth": {"condition": {"test": "datum.value % 10", "value": 0.5}, "value": 1}}},
      "y": {"field": "lo", "type": "quantitative", "title": "exp_p", "scale": {"domain": [-724, 752], "nice": false, "zero": false}, "axis": {"labelOverlap": false, "values": [-600,-400,-200,0,200,400,600], "labelExpr": "datum.value % 400 ? '' : datum.label", "tickOpacity": {"condition": {"test": "datum.value % 400", "value": 0}, "value": 1}, "gridWidth": {"condition": {"test": "datum.value % 400", "value": 0.5}, "value": 1}}}, "y2": {"field": "hi"}}},
    {"data": {"name": "ident"}, "mark": {"type": "line", "color": "#000000", "strokeWidth": 0.8, "clip": true}, "encoding": {"x": {"field": "x", "type": "quantitative", "title": "obs_p"}, "y": {"field": "y", "type": "quantitative", "title": "exp_p"}}},
    {"data": {"name": "H_band"}, "mark": {"type": "line", "color": "#3366FF", "strokeWidth": 1.3, "interpolate": "monotone"}, "encoding": {"x": {"field": "x", "type": "quantitative", "title": "obs_p"}, "y": {"field": "fit", "type": "quantitative", "title": "exp_p"}}},
    {"data": {"name": "H_pts"}, "mark": {"type": "circle", "color": "#000000", "size": 9, "opacity": 1}, "encoding": {"x": {"field": "x", "type": "quantitative", "title": "obs_p"}, "y": {"field": "y", "type": "quantitative", "title": "exp_p"}}},
    {"data": {"values": [{"label": "Renal failure"}]}, "mark": {"type": "text", "font": "Lato", "fontWeight": "bold", "fontSize": 25, "align": "left", "baseline": "alphabetic", "color": "#000000"}, "encoding": {"x": {"datum": 0.3, "type": "quantitative"}, "y": {"datum": 596, "type": "quantitative"}, "text": {"field": "label"}}}
   ]},
  {"width": 263, "height": 267,
   "title": {"text": "I", "anchor": "start", "frame": "group", "offset": 0, "baseline": "alphabetic", "dx": -31, "dy": 13, "font": "Liberation Sans", "fontSize": 27, "fontWeight": "bold", "color": "#000000"},
   "layer": [
    {"data": {"name": "I_band"}, "mark": {"type": "area", "color": "#999999", "opacity": 0.4, "interpolate": "monotone"}, "encoding": {
      "x": {"field": "x", "type": "quantitative", "title": "obs_p", "scale": {"domain": [-0.7, 14.7], "nice": false, "zero": false}, "axis": {"labelOverlap": false, "values": [0,2.5,5,7.5,10,12.5], "labelExpr": "datum.value % 5 ? '' : datum.label", "tickOpacity": {"condition": {"test": "datum.value % 5", "value": 0}, "value": 1}, "gridWidth": {"condition": {"test": "datum.value % 5", "value": 0.5}, "value": 1}}},
      "y": {"field": "lo", "type": "quantitative", "title": "exp_p", "scale": {"domain": [-25.2, 23.9], "nice": false, "zero": false}, "axis": {"labelOverlap": false, "values": [-20,-15,-10,-5,0,5,10,15,20], "labelExpr": "datum.value % 10 ? '' : datum.label", "tickOpacity": {"condition": {"test": "datum.value % 10", "value": 0}, "value": 1}, "gridWidth": {"condition": {"test": "datum.value % 10", "value": 0.5}, "value": 1}}}, "y2": {"field": "hi"}}},
    {"data": {"name": "ident"}, "mark": {"type": "line", "color": "#000000", "strokeWidth": 0.8, "clip": true}, "encoding": {"x": {"field": "x", "type": "quantitative", "title": "obs_p"}, "y": {"field": "y", "type": "quantitative", "title": "exp_p"}}},
    {"data": {"name": "I_band"}, "mark": {"type": "line", "color": "#3366FF", "strokeWidth": 1.3, "interpolate": "monotone"}, "encoding": {"x": {"field": "x", "type": "quantitative", "title": "obs_p"}, "y": {"field": "fit", "type": "quantitative", "title": "exp_p"}}},
    {"data": {"name": "I_pts"}, "mark": {"type": "circle", "color": "#000000", "size": 9, "opacity": 1}, "encoding": {"x": {"field": "x", "type": "quantitative", "title": "obs_p"}, "y": {"field": "y", "type": "quantitative", "title": "exp_p"}}},
    {"data": {"values": [{"label": "UTI"}]}, "mark": {"type": "text", "font": "Liberation Sans", "fontWeight": "bold", "fontSize": 24, "align": "left", "baseline": "alphabetic", "color": "#000000"}, "encoding": {"x": {"datum": 0.12, "type": "quantitative"}, "y": {"datum": 16.5, "type": "quantitative"}, "text": {"field": "label"}}}
   ]},
  {"width": 266, "height": 267,
   "title": {"text": "J", "anchor": "start", "frame": "group", "offset": 0, "baseline": "alphabetic", "dx": -34, "dy": 13, "font": "Liberation Sans", "fontSize": 27, "fontWeight": "bold", "color": "#000000"},
   "layer": [
    {"data": {"name": "J_band"}, "mark": {"type": "area", "color": "#999999", "opacity": 0.4, "interpolate": "monotone"}, "encoding": {
      "x": {"field": "x", "type": "quantitative", "title": "obs_p", "scale": {"domain": [-2.5, 76.3], "nice": false, "zero": false}, "axis": {"labelOverlap": false, "values": [0,10,20,30,40,50,60,70], "labelExpr": "datum.value % 20 ? '' : datum.label", "tickOpacity": {"condition": {"test": "datum.value % 20", "value": 0}, "value": 1}, "gridWidth": {"condition": {"test": "datum.value % 20", "value": 0.5}, "value": 1}}},
      "y": {"field": "lo", "type": "quantitative", "title": "exp_p", "scale": {"domain": [-12.5, 107], "nice": false, "zero": false}, "axis": {"labelOverlap": false, "values": [0,12.5,25,37.5,50,62.5,75,87.5,100], "labelExpr": "datum.value % 25 ? '' : datum.label", "tickOpacity": {"condition": {"test": "datum.value % 25", "value": 0}, "value": 1}, "gridWidth": {"condition": {"test": "datum.value % 25", "value": 0.5}, "value": 1}}}, "y2": {"field": "hi"}}},
    {"data": {"name": "ident"}, "mark": {"type": "line", "color": "#000000", "strokeWidth": 0.8, "clip": true}, "encoding": {"x": {"field": "x", "type": "quantitative", "title": "obs_p"}, "y": {"field": "y", "type": "quantitative", "title": "exp_p"}}},
    {"data": {"name": "J_band"}, "mark": {"type": "line", "color": "#3366FF", "strokeWidth": 1.3, "interpolate": "monotone"}, "encoding": {"x": {"field": "x", "type": "quantitative", "title": "obs_p"}, "y": {"field": "fit", "type": "quantitative", "title": "exp_p"}}},
    {"data": {"name": "J_pts"}, "mark": {"type": "circle", "color": "#000000", "size": 9, "opacity": 1}, "encoding": {"x": {"field": "x", "type": "quantitative", "title": "obs_p"}, "y": {"field": "y", "type": "quantitative", "title": "exp_p"}}},
    {"data": {"values": [{"label": "SSI"}]}, "mark": {"type": "text", "font": "Lato", "fontWeight": "bold", "fontSize": 25, "align": "left", "baseline": "alphabetic", "color": "#000000"}, "encoding": {"x": {"datum": 3.6, "type": "quantitative"}, "y": {"datum": 90, "type": "quantitative"}, "text": {"field": "label"}}}
   ]},
  {"width": 278, "height": 267,
   "title": {"text": "K", "anchor": "start", "frame": "group", "offset": 0, "baseline": "alphabetic", "dx": -35, "dy": 13, "font": "Liberation Sans", "fontSize": 27, "fontWeight": "bold", "color": "#000000"},
   "layer": [
    {"data": {"name": "K_band"}, "mark": {"type": "area", "color": "#999999", "opacity": 0.4, "interpolate": "monotone"}, "encoding": {
      "x": {"field": "x", "type": "quantitative", "title": "obs_p", "scale": {"domain": [-2, 41.5], "nice": false, "zero": false}, "axis": {"labelOverlap": false, "values": [0,5,10,15,20,25,30,35,40], "labelExpr": "datum.value % 10 ? '' : datum.label", "tickOpacity": {"condition": {"test": "datum.value % 10", "value": 0}, "value": 1}, "gridWidth": {"condition": {"test": "datum.value % 10", "value": 0.5}, "value": 1}}},
      "y": {"field": "lo", "type": "quantitative", "title": "exp_p", "scale": {"domain": [0.8, 37.5], "nice": false, "zero": false}, "axis": {"labelOverlap": false, "values": [5,10,15,20,25,30,35], "labelExpr": "datum.value % 10 ? '' : datum.label", "tickOpacity": {"condition": {"test": "datum.value % 10", "value": 0}, "value": 1}, "gridWidth": {"condition": {"test": "datum.value % 10", "value": 0.5}, "value": 1}}}, "y2": {"field": "hi"}}},
    {"data": {"name": "ident"}, "mark": {"type": "line", "color": "#000000", "strokeWidth": 0.8, "clip": true}, "encoding": {"x": {"field": "x", "type": "quantitative", "title": "obs_p"}, "y": {"field": "y", "type": "quantitative", "title": "exp_p"}}},
    {"data": {"name": "K_band"}, "mark": {"type": "line", "color": "#3366FF", "strokeWidth": 1.3, "interpolate": "monotone"}, "encoding": {"x": {"field": "x", "type": "quantitative", "title": "obs_p"}, "y": {"field": "fit", "type": "quantitative", "title": "exp_p"}}},
    {"data": {"name": "K_pts"}, "mark": {"type": "circle", "color": "#000000", "size": 9, "opacity": 1}, "encoding": {"x": {"field": "x", "type": "quantitative", "title": "obs_p"}, "y": {"field": "y", "type": "quantitative", "title": "exp_p"}}},
    {"data": {"values": [{"label": "Sepsis"}]}, "mark": {"type": "text", "font": "Lato", "fontWeight": "bold", "fontSize": 25, "align": "left", "baseline": "alphabetic", "color": "#000000"}, "encoding": {"x": {"datum": -0.27, "type": "quantitative"}, "y": {"datum": 31.2, "type": "quantitative"}, "text": {"field": "label"}}}
   ]}
]
}
